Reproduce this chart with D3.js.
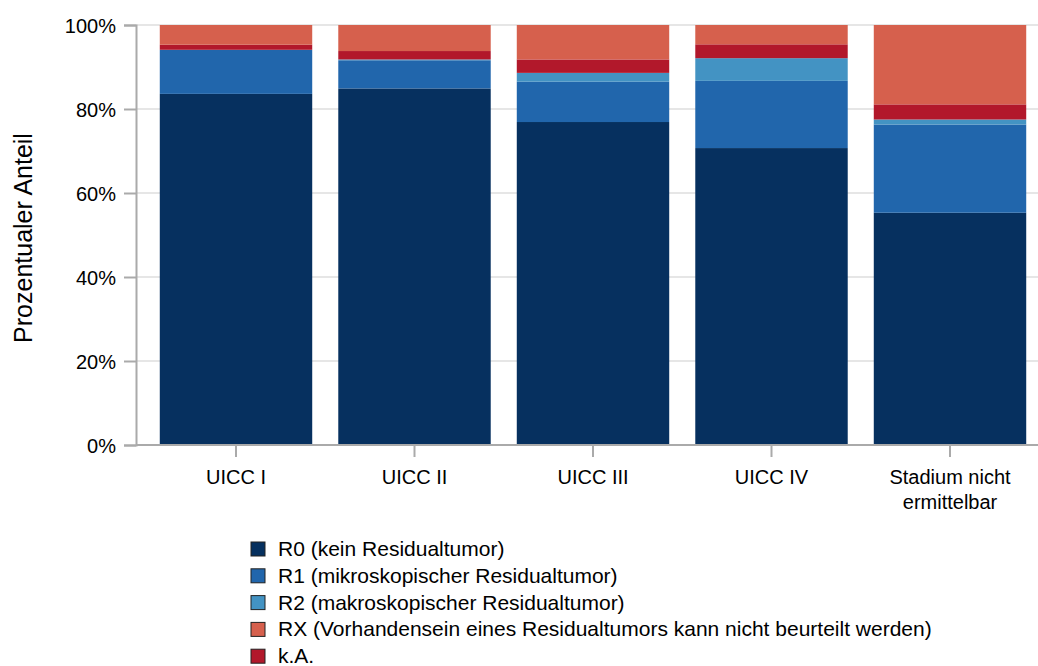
<!DOCTYPE html>
<html>
<head>
<meta charset="utf-8">
<script src="https://cdn.jsdelivr.net/npm/d3@7"></script>
<style>
  body { margin: 0; background: #fff; }
  text { font-family: "Liberation Sans", Arial, sans-serif; fill: #000; }
</style>
</head>
<body>
<svg id="grafico"></svg>
<script>
// Kategorien (x-Achse) und Anteile je Residualstatus in Prozent
var kategorien = ['UICC I', 'UICC II', 'UICC III', 'UICC IV', 'Stadium nicht ermittelbar'];
var r0 = [83.6, 84.9, 76.9, 70.7, 55.3];
var r1 = [10.5, 6.7, 9.6, 16.0, 21.0];
var r2 = [0.0, 0.2, 2.1, 5.4, 1.2];
var ka = [1.2, 2.0, 3.2, 3.3, 3.6];
var rx = [4.7, 6.2, 8.2, 4.6, 18.9];
var yTicks = [0, 20, 40, 60, 80, 100];

// Stapelreihenfolge (unten nach oben) und Legendenreihenfolge
var serien = [
  { key: 'r0', name: 'R0 (kein Residualtumor)', werte: r0, farbe: '#06305f' },
  { key: 'r1', name: 'R1 (mikroskopischer Residualtumor)', werte: r1, farbe: '#2166ac' },
  { key: 'r2', name: 'R2 (makroskopischer Residualtumor)', werte: r2, farbe: '#4393c3' },
  { key: 'ka', name: 'k.A.', werte: ka, farbe: '#b2182b' },
  { key: 'rx', name: 'RX (Vorhandensein eines Residualtumors kann nicht beurteilt werden)', werte: rx, farbe: '#d6604d' }
];
var legendeReihenfolge = ['r0', 'r1', 'r2', 'rx', 'ka'];

var largura = 1038, altura = 666;
var svg = d3.select('#grafico').attr('width', largura).attr('height', altura);

// Tabelle fuer d3.stack
var tabelle = kategorien.map(function(k, i) {
  var zeile = { kategorie: k };
  serien.forEach(function(s) { zeile[s.key] = s.werte[i]; });
  return zeile;
});
var stapel = d3.stack().keys(serien.map(s => s.key))(tabelle);

// Skalen
var x = d3.scaleBand()
          .domain(kategorien)
          .range([146.75, 1039.25])
          .paddingInner(0.146)
          .paddingOuter(0.073);
var y = d3.scaleLinear().domain([0, 100]).range([445, 25]);
var farbe = d3.scaleOrdinal().domain(serien.map(s => s.key)).range(serien.map(s => s.farbe));

// Gitterlinien
svg.append('g')
   .selectAll('line')
   .data(yTicks)
   .enter().append('line')
   .attr('x1', 136).attr('x2', largura)
   .attr('y1', d => y(d)).attr('y2', d => y(d))
   .attr('stroke', '#e6e6e6').attr('stroke-width', 2);

// Balken
svg.append('g')
   .selectAll('g')
   .data(stapel)
   .enter().append('g')
   .attr('fill', d => farbe(d.key))
   .selectAll('rect')
   .data(d => d)
   .enter().append('rect')
   .attr('x', d => x(d.data.kategorie))
   .attr('width', x.bandwidth())
   .attr('y', d => y(d[1]))
   .attr('height', d => y(d[0]) - y(d[1]));

// y-Achse
var eixoY = svg.append('g')
   .attr('transform', 'translate(136,0)')
   .call(d3.axisLeft(y).tickValues(yTicks).tickFormat(d => d + '%').tickSize(12).tickPadding(8));
eixoY.select('.domain').attr('stroke', '#aaaaaa').attr('stroke-width', 2);
eixoY.selectAll('.tick line').attr('stroke', '#aaaaaa').attr('stroke-width', 2);
eixoY.selectAll('.tick text').style('font-size', '20px').attr('dy', '0.36em');

// x-Achse
var eixoX = svg.append('g')
   .attr('transform', 'translate(0,445)')
   .call(d3.axisBottom(x).tickSize(12).tickSizeOuter(0).tickPadding(0));
eixoX.select('.domain').attr('d', 'M136,0H' + largura).attr('stroke', '#aaaaaa').attr('stroke-width', 2);
eixoX.selectAll('.tick line').attr('stroke', '#aaaaaa').attr('stroke-width', 2);
eixoX.selectAll('.tick text').remove();
eixoX.selectAll('.tick').each(function(d) {
  var teile = d === 'Stadium nicht ermittelbar' ? ['Stadium nicht', 'ermittelbar'] : [d];
  var t = d3.select(this).append('text')
            .attr('text-anchor', 'middle')
            .style('font-size', '20px')
            .style('font-family', '"Liberation Sans", Arial, sans-serif')
            .attr('fill', '#000');
  teile.forEach(function(s, i) {
    t.append('tspan').attr('x', 0).attr('y', 39 + i * 25).text(s);
  });
});

// Achsentitel
svg.append('text')
   .attr('transform', 'translate(32,238) rotate(-90)')
   .attr('text-anchor', 'middle')
   .style('font-size', '25px')
   .text('Prozentualer Anteil');

// Legende
var legende = svg.append('g')
   .selectAll('g')
   .data(legendeReihenfolge.map(k => serien.find(s => s.key === k)))
   .enter().append('g')
   .attr('transform', (d, i) => 'translate(251,' + (549 + i * 26.8) + ')');
legende.append('rect')
   .attr('x', 0).attr('y', -7)
   .attr('width', 14).attr('height', 14)
   .attr('fill', d => d.farbe)
   .attr('stroke', '#222').attr('stroke-width', 1);
legende.append('text')
   .attr('x', 27).attr('y', 7)
   .style('font-size', '21px')
   .text(d => d.name);
</script>
</body>
</html>
